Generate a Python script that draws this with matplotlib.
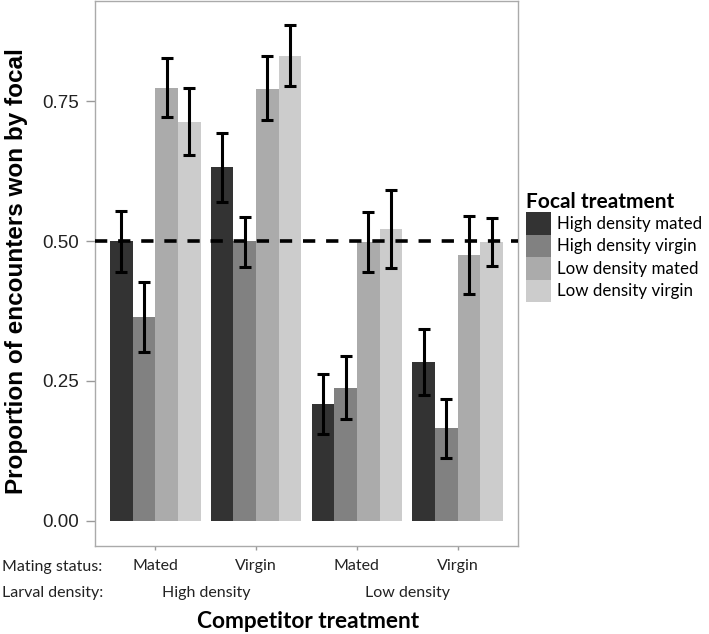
import numpy as np
import matplotlib
matplotlib.use('Agg')
import matplotlib.pyplot as plt
from matplotlib.patches import Patch

# data
groups = ['Mated', 'Virgin', 'Mated', 'Virgin']
densities = ['High density', 'Low density']
series = ['High density mated', 'High density virgin', 'Low density mated', 'Low density virgin']
colors = ['#333333', '#818181', '#ababab', '#cccccc']

means = [
    [0.500, 0.632, 0.208, 0.283],
    [0.365, 0.500, 0.237, 0.165],
    [0.774, 0.772, 0.498, 0.475],
    [0.712, 0.830, 0.521, 0.498],
]
upper = [
    [0.554, 0.693, 0.263, 0.342],
    [0.426, 0.543, 0.295, 0.218],
    [0.828, 0.830, 0.552, 0.545],
    [0.773, 0.886, 0.591, 0.541],
]
lower = [
    [0.444, 0.570, 0.155, 0.224],
    [0.302, 0.454, 0.182, 0.113],
    [0.722, 0.716, 0.444, 0.406],
    [0.654, 0.777, 0.451, 0.456],
]
yticks = [0.00, 0.25, 0.50, 0.75]

W, H = 709, 634
fig = plt.figure(figsize=(W / 100, H / 100), dpi=100)
ax = fig.add_axes([95 / W, 1 - 546 / H, (518 - 95) / W, (546 - 1) / H])

x = np.arange(1, len(groups) + 1)
bw = 0.225
for i, (name, col) in enumerate(zip(series, colors)):
    xs = x + (i - 1.5) * bw
    m = np.array(means[i])
    err = [m - np.array(lower[i]), np.array(upper[i]) - m]
    ax.bar(xs, m, width=bw, color=col, linewidth=0, zorder=2)
    ax.errorbar(xs, m, yerr=err, fmt='none', ecolor='black', elinewidth=2.2,
                capsize=4, capthick=2.2, zorder=4)

ax.axhline(0.5, color='black', lw=2.6, dashes=(3.4, 3.0), zorder=3)

ax.set_xlim(0.4, 4.6)
ax.set_ylim(-0.045, 0.929)
ax.set_yticks(yticks)
ax.set_yticklabels(['%.2f' % v for v in yticks], fontfamily='Liberation Sans',
                   fontsize=13.5, color='#222222')
ax.set_xticks(x)
ax.set_xticklabels([])
ax.tick_params(axis='y', direction='out', length=6.5, width=1, color='#999999', pad=5)
ax.tick_params(axis='x', direction='out', length=3, width=1, color='#999999')
for s in ax.spines.values():
    s.set_color('#aaaaaa')
    s.set_linewidth(1)

fig.text(17 / W, 1 - 271 / H, 'Proportion of encounters won by focal', rotation=90,
         ha='center', va='center', fontfamily='Liberation Sans', fontweight='bold',
         fontsize=17.5, color='black')

# two-line category axis
lab = dict(fontfamily='Lato', fontsize=11.5, color='#222222', va='center')
fig.text(2 / W, 1 - 567 / H, 'Mating status:', ha='left', **lab)
fig.text(2 / W, 1 - 593 / H, 'Larval density:', ha='left', **lab)
for xi, g in zip(x, groups):
    px = ax.transData.transform((xi, 0))[0]
    fig.text(px / W, 1 - 566 / H, g, ha='center', **lab)
for k, d in enumerate(densities):
    px = ax.transData.transform((x[2 * k] + 0.5, 0))[0]
    fig.text(px / W, 1 - 593 / H, d, ha='center', **lab)
fig.text(308 / W, 1 - 622 / H, 'Competitor treatment', ha='center', va='center',
         fontfamily='Lato', fontweight='bold', fontsize=16.3, color='black')

handles = [Patch(facecolor=c, edgecolor='none') for c in colors]
leg = fig.legend(handles, series, loc='upper left', bbox_to_anchor=(526 / W, 1 - 192 / H),
                 frameon=False, title='Focal treatment', alignment='left',
                 prop={'family': 'Lato', 'size': 12.2},
                 title_fontproperties={'family': 'Lato', 'weight': 'bold', 'size': 15},
                 handlelength=1.47, handleheight=1.67, labelspacing=0.0,
                 handletextpad=0.38, borderaxespad=0, borderpad=0)

fig.savefig('out.png', dpi=100)
